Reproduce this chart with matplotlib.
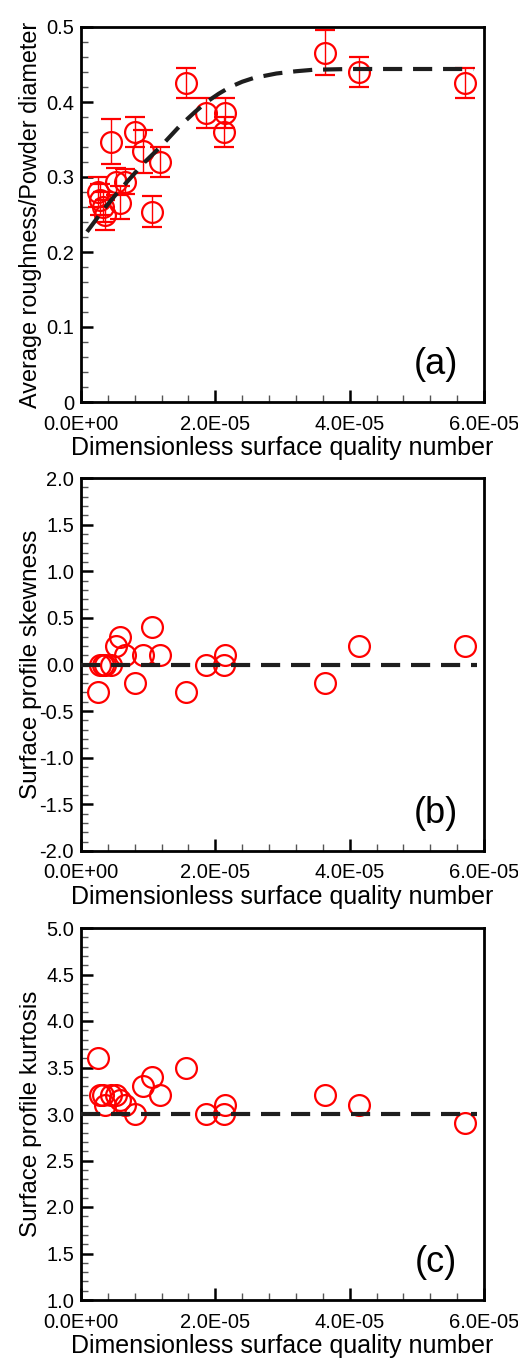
import matplotlib
matplotlib.use('Agg')
import matplotlib.pyplot as plt
from matplotlib.ticker import MultipleLocator, FixedLocator, FuncFormatter
import numpy as np

plt.rcParams['font.family'] = ['Liberation Sans', 'DejaVu Sans']

# dimensionless surface quality number of each sample (x 1e-5)
sq_number = np.array([0.25, 0.29, 0.33, 0.36, 0.44, 0.52, 0.58, 0.65, 0.80, 0.93,
                      1.06, 1.17, 1.57, 1.86, 2.13, 2.15, 3.64, 4.14, 5.71]) * 1e-5

# (a) average roughness / powder diameter with scatter
ra_ratio = [0.280, 0.270, 0.260, 0.250, 0.347, 0.294, 0.266, 0.294, 0.360, 0.334,
            0.254, 0.320, 0.426, 0.386, 0.360, 0.386, 0.466, 0.440, 0.426]
ra_err = [0.020, 0.020, 0.020, 0.020, 0.030, 0.018, 0.022, 0.017, 0.020, 0.028,
          0.020, 0.020, 0.020, 0.020, 0.020, 0.020, 0.030, 0.020, 0.020]

# (b) skewness, (c) kurtosis
skewness = [-0.3, 0.0, 0.0, 0.0, 0.0, 0.2, 0.3, 0.1, -0.2, 0.1,
            0.4, 0.1, -0.3, 0.0, 0.0, 0.1, -0.2, 0.2, 0.2]
kurtosis = [3.6, 3.2, 3.2, 3.1, 3.2, 3.2, 3.15, 3.1, 3.0, 3.3,
            3.4, 3.2, 3.5, 3.0, 3.0, 3.1, 3.2, 3.1, 2.9]

# trend curve for Ra/D
fit_x = np.array([0.09, 0.33, 0.55, 0.73, 0.95, 1.18, 1.47, 1.70, 1.87, 2.05,
                  2.22, 2.40, 2.57, 2.91, 3.20, 3.46, 4.00, 5.84]) * 1e-5
fit_y = [0.227, 0.256, 0.280, 0.298, 0.320, 0.340, 0.368, 0.387, 0.400, 0.411,
         0.420, 0.427, 0.432, 0.438, 0.441, 0.443, 0.444, 0.444]

# gaussian reference values
ref_x = [0.0, 5.9e-5]
skew_ref = [0.0, 0.0]
kurt_ref = [3.0, 3.0]

W, H = 518, 1363
fig = plt.figure(figsize=(W / 100, H / 100), dpi=100)


def make_axes(top, bottom):
    left, right = 81, 484
    return fig.add_axes([left / W, (H - bottom) / H, (right - left) / W, (bottom - top) / H])


ax_a = make_axes(27, 402)
ax_b = make_axes(478, 851)
ax_c = make_axes(928, 1300)

dash_kw = dict(color='#1e1e1e', lw=3.0, dashes=(4.6, 2.6), zorder=5)
mark_kw = dict(ls='none', marker='o', ms=15, mfc='none', mec='red', mew=1.6)

ax_a.errorbar(sq_number, ra_ratio, yerr=ra_err, ecolor='red', elinewidth=1.0,
              capsize=7, capthick=1.0, **mark_kw)
ax_a.plot(fit_x, fit_y, **dash_kw)

ax_b.plot(sq_number, skewness, **mark_kw)
ax_b.plot(ref_x, skew_ref, **dash_kw)

ax_c.plot(sq_number, kurtosis, **mark_kw)
ax_c.plot(ref_x, kurt_ref, **dash_kw)


def style(ax, ylim, major, minor, ylabel, tag, zero_label=False, ylabel_size=17.5):
    ax.set_xlim(0, 6e-5)
    ax.set_ylim(*ylim)
    ax.xaxis.set_major_locator(FixedLocator([0, 2e-5, 4e-5, 6e-5]))
    ax.xaxis.set_minor_locator(MultipleLocator(4e-6))
    ax.xaxis.set_major_formatter(FuncFormatter(lambda v, p: '%.1E' % v))
    ax.yaxis.set_major_locator(MultipleLocator(major))
    ax.yaxis.set_minor_locator(MultipleLocator(minor))
    if zero_label:
        ax.yaxis.set_major_formatter(FuncFormatter(lambda v, p: '0' if abs(v) < 1e-9 else '%.1f' % v))
    else:
        ax.yaxis.set_major_formatter(FuncFormatter(lambda v, p: '%.1f' % v))
    ax.tick_params(which='both', direction='in', top=False, right=False, labelsize=14.5)
    ax.tick_params(which='major', length=8.5, width=1.8, color='black')
    ax.tick_params(which='minor', length=5, width=1.0, color='#555555')
    ax.tick_params(axis='x', which='major', pad=9)
    ax.tick_params(axis='y', which='major', pad=5)
    for sp in ax.spines.values():
        sp.set_linewidth(2.0)
    ax.set_xlabel('Dimensionless surface quality number', fontsize=18, labelpad=2)
    ax.set_ylabel(ylabel, fontsize=ylabel_size)
    ax.yaxis.set_label_coords(-0.097, 0.5)
    ax.text(0.881, 0.10, tag, transform=ax.transAxes, fontsize=26,
            ha='center', va='center')


style(ax_a, (0, 0.5), 0.1, 0.02, 'Average roughness/Powder diameter', '(a)',
      zero_label=True, ylabel_size=16.8)
style(ax_b, (-2.0, 2.0), 0.5, 0.1, 'Surface profile skewness', '(b)')
style(ax_c, (1.0, 5.0), 0.5, 0.1, 'Surface profile kurtosis', '(c)')

fig.savefig('out.png', dpi=100)
